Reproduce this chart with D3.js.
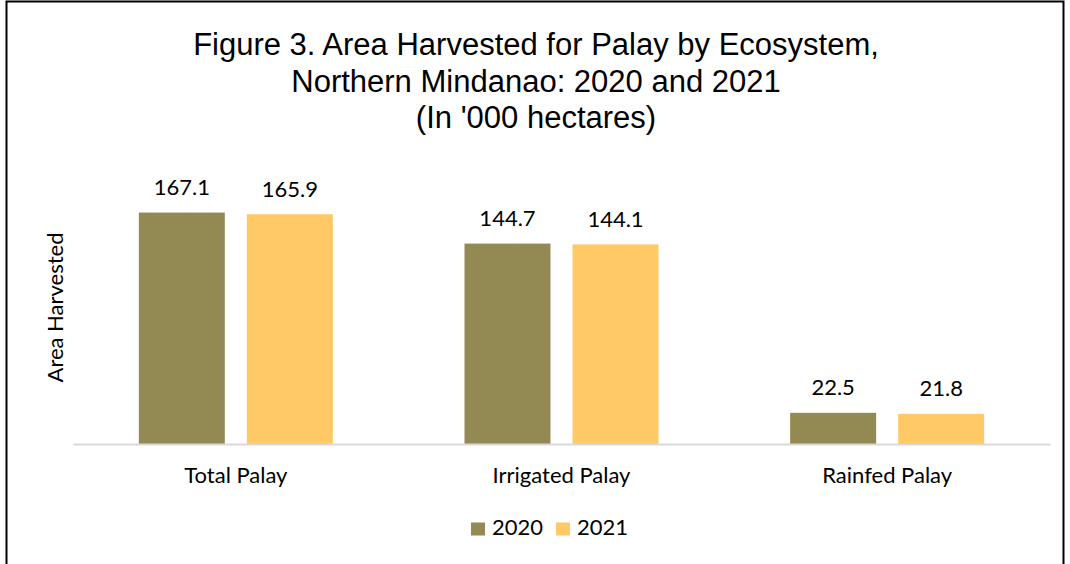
<!DOCTYPE html>
<html><head><meta charset="utf-8">
<script src="https://cdn.jsdelivr.net/npm/d3@7"></script>
<style>body{margin:0;background:#fff}</style>
</head><body>
<svg id="c" width="1070" height="564"></svg>
<script>
const categories = ["Total Palay", "Irrigated Palay", "Rainfed Palay"];
const seriesNames = ["2020", "2021"];
const values2020 = [167.1, 144.7, 22.5];
const values2021 = [165.9, 144.1, 21.8];
const titleLines = ["Figure 3. Area Harvested for Palay by Ecosystem,", "Northern Mindanao: 2020 and 2021", "(In '000 hectares)"];
const colors = ["#938953", "#ffc965"];

const svg = d3.select("#c");
const W = 1070, H = 564;
svg.append("rect").attr("x", 0).attr("y", 0).attr("width", W).attr("height", H).attr("fill", "#fff");
// frame
svg.append("path").attr("d", `M6.5,${H} V1.5 H1063.5 V${H}`).attr("fill", "none").attr("stroke", "#000").attr("stroke-width", 2);

const bodyFont = "Lato, 'Open Sans', sans-serif";
svg.append("g").selectAll("text").data(titleLines).join("text")
  .attr("x", 536).attr("y", (d, i) => 55 + i * 36.7)
  .attr("text-anchor", "middle").attr("font-family", "'Liberation Sans', Arial, sans-serif")
  .attr("font-size", 31).attr("fill", "#000").text(d => d);

const x0 = d3.scaleBand().domain(categories).range([73, 1050]).paddingInner(0).paddingOuter(0);
const y = d3.scaleLinear().domain([0, 200]).range([444, 167]);
const groupW = 194;
const x1 = d3.scaleBand().domain(seriesNames)
  .range([(x0.bandwidth() - groupW) / 2, (x0.bandwidth() + groupW) / 2])
  .paddingInner(0.204).paddingOuter(0);

const data = categories.map((c, i) => ({cat: c, vals: [values2020[i], values2021[i]]}));
const g = svg.append("g");
const groups = g.selectAll("g.cat").data(data).join("g").attr("transform", d => `translate(${x0(d.cat)},0)`);
groups.selectAll("rect").data(d => d.vals.map((v, j) => ({v, s: seriesNames[j], j}))).join("rect")
  .attr("x", d => x1(d.s)).attr("width", x1.bandwidth())
  .attr("y", d => y(d.v)).attr("height", d => y(0) - y(d.v))
  .attr("fill", d => colors[d.j]);
groups.selectAll("text.val").data(d => d.vals.map((v, j) => ({v, s: seriesNames[j]}))).join("text")
  .attr("class", "val")
  .attr("x", d => x1(d.s) + x1.bandwidth() / 2).attr("y", d => y(d.v) - 17.6)
  .attr("text-anchor", "middle").attr("font-family", bodyFont).attr("font-size", 22)
  .attr("fill", "#000").text(d => d.v.toFixed(1));

// x axis
const xAxis = d3.axisBottom(x0).tickSize(0).tickPadding(23.4);
const ax = svg.append("g").attr("transform", `translate(0,${y(0)})`).call(xAxis);
ax.select(".domain").attr("stroke", "#d9d9d9").attr("stroke-width", 2);
ax.selectAll("text").attr("font-family", bodyFont).attr("font-size", 22).attr("fill", "#000");

// y title
svg.append("text").attr("transform", "translate(63,307.5) rotate(-90)")
  .attr("text-anchor", "middle").attr("font-family", bodyFont).attr("font-size", 22).attr("fill", "#000")
  .text("Area Harvested");

// legend
const leg = svg.append("g");
const legX = [471, 556];
seriesNames.forEach((s, i) => {
  leg.append("rect").attr("x", legX[i]).attr("y", 522.5).attr("width", 14).attr("height", 13).attr("fill", colors[i]);
  leg.append("text").attr("x", legX[i] + 21).attr("y", 535).attr("font-family", bodyFont).attr("font-size", 22).attr("fill", "#000").text(s);
});
</script>
</body></html>
